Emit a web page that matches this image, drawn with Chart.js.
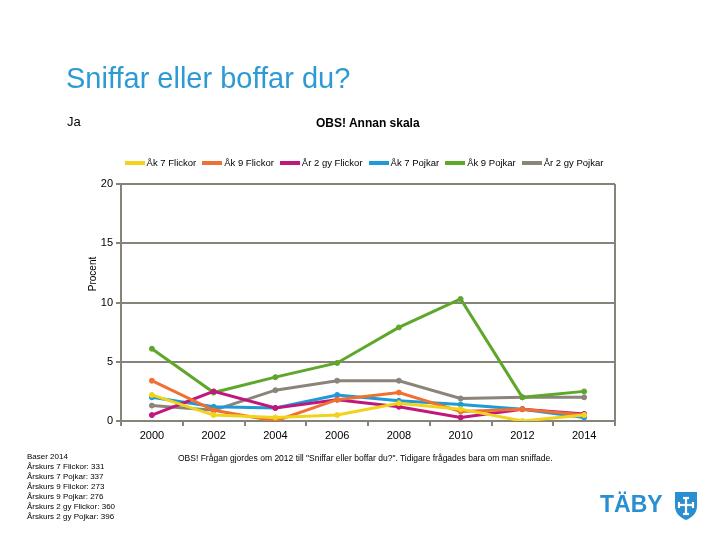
<!DOCTYPE html>
<html>
<head>
<meta charset="utf-8">
<script src="https://cdn.jsdelivr.net/npm/chart.js@4/dist/chart.umd.min.js"></script>
<style>
  html, body { margin:0; padding:0; background:#fff; }
  #wrap { position:relative; width:720px; height:540px; overflow:hidden; font-family:"Liberation Sans", Arial, sans-serif; }
  #c { position:absolute; left:0; top:0; }
  .t { position:absolute; white-space:nowrap; color:#000; }
  #title { left:66px; top:62px; font-size:29px; color:#2e9ad3; }
  #ja { left:67px; top:114px; font-size:13px; }
  #obs { left:316px; top:116px; font-size:12px; font-weight:bold; }
  #legend { position:absolute; top:157px; left:0; width:728px; display:flex; justify-content:center; font-size:9.5px; }
  .li { display:flex; align-items:center; margin:0 3px; }
  .sw { width:20px; height:4px; margin-right:2px; }
  #bas { left:27px; top:452px; font-size:8px; line-height:10px; }
  #note { left:178px; top:453px; font-size:8.5px; }
  #taby { left:600px; top:491px; font-size:23px; font-weight:bold; color:#2a8fd0; }
  #shield { position:absolute; left:674px; top:491px; }
</style>
</head>
<body>
<div id="wrap">
  <canvas id="c" width="720" height="540"></canvas>
  <div class="t" id="title">Sniffar eller boffar du?</div>
  <div class="t" id="ja">Ja</div>
  <div class="t" id="obs">OBS! Annan skala</div>
  <div id="legend"></div>
  <div class="t" id="bas">Baser 2014<br>Årskurs 7 Flickor: 331<br>Årskurs 7 Pojkar: 337<br>Årskurs 9 Flickor: 273<br>Årskurs 9 Pojkar: 276<br>Årskurs 2 gy Flickor: 360<br>Årskurs 2 gy Pojkar: 396</div>
  <div class="t" id="note">OBS! Frågan gjordes om 2012 till "Sniffar eller boffar du?". Tidigare frågades bara om man sniffade.</div>
  <div class="t" id="taby">TÄBY</div>
  <svg id="shield" width="24" height="30" viewBox="0 0 24 30">
    <path d="M1 1 H23 V15 C23 23 17 27 12 29 C7 27 1 23 1 15 Z" fill="#2a8fd0"/>
    <g stroke="#fff" stroke-width="2.2" fill="none">
      <line x1="12" y1="6" x2="12" y2="24"/>
      <line x1="4" y1="14" x2="20" y2="14"/>
      <line x1="9" y1="7" x2="15" y2="7"/>
      <line x1="9" y1="23" x2="15" y2="23"/>
      <line x1="5" y1="11" x2="5" y2="17"/>
      <line x1="19" y1="11" x2="19" y2="17"/>
    </g>
  </svg>
</div>
<script>
const years = ["2000","2002","2004","2006","2008","2010","2012","2014"];
const seriesNames = ["Åk 7 Flickor","Åk 9 Flickor","År 2 gy Flickor","Åk 7 Pojkar","Åk 9 Pojkar","År 2 gy Pojkar"];
const ak7Flickor   = [2.2, 0.5, 0.3, 0.5, 1.5, 1.0, 0.0, 0.5];
const ak9Flickor   = [3.4, 0.9, 0.0, 1.8, 2.4, 0.8, 1.0, 0.5];
const ar2Flickor   = [0.5, 2.5, 1.1, 1.8, 1.2, 0.3, 1.0, 0.6];
const ak7Pojkar    = [2.0, 1.2, 1.1, 2.2, 1.7, 1.4, 1.0, 0.3];
const ak9Pojkar    = [6.1, 2.4, 3.7, 4.9, 7.9, 10.3, 2.0, 2.5];
const ar2Pojkar    = [1.3, 0.9, 2.6, 3.4, 3.4, 1.9, 2.0, 2.0];
const yTicks = [0, 5, 10, 15, 20];

const colors = ["#f2d31b","#ef7033","#c0177b","#1c9bd7","#5ea72b","#8b8479"];
const values = [ak7Flickor, ak9Flickor, ar2Flickor, ak7Pojkar, ak9Pojkar, ar2Pojkar];
const gridCol = "#878378";

const legend = document.getElementById('legend');
seriesNames.forEach((n,i)=>{
  const d = document.createElement('div'); d.className='li';
  d.innerHTML = '<span class="sw" style="background:'+colors[i]+'"></span><span>'+n+'</span>';
  legend.appendChild(d);
});

const extras = {
  id:'extras',
  afterDraw(chart){
    const ctx = chart.ctx, a = chart.chartArea;
    ctx.save();
    ctx.strokeStyle = gridCol; ctx.lineWidth = 2;
    ctx.beginPath(); ctx.moveTo(a.right, a.top); ctx.lineTo(a.right, a.bottom); ctx.stroke();
    ctx.fillStyle = '#000';
    ctx.font = '10px "Liberation Sans", Arial, sans-serif';
    ctx.translate(93, 274); ctx.rotate(-Math.PI/2);
    ctx.textAlign = 'center'; ctx.textBaseline = 'middle';
    ctx.fillText('Procent', 0, 0);
    ctx.restore();
  }
};

new Chart(document.getElementById('c'), {
  type:'line',
  data:{
    labels: years,
    datasets: seriesNames.map((n,i)=>({
      label:n, data:values[i], borderColor:colors[i], backgroundColor:colors[i],
      pointBackgroundColor:colors[i], pointBorderColor:colors[i],
      borderWidth:3, pointRadius:2.5, pointBorderWidth:1, tension:0, fill:false
    }))
  },
  options:{
    responsive:false, animation:false, devicePixelRatio:1,
    layout:{ padding:{ left:0, right:105, top:184, bottom:89 } },
    plugins:{ legend:{display:false}, tooltip:{enabled:false} },
    scales:{
      x:{
        offset:true,
        grid:{ offset:true, drawOnChartArea:false, drawTicks:true, tickLength:5, color:gridCol, lineWidth:2 },
        border:{ color:gridCol, width:2 },
        ticks:{ color:'#000', font:{ family:'"Liberation Sans", Arial, sans-serif', size:11 }, padding:3, maxRotation:0 },
        afterFit(s){ s.height = 30; }
      },
      y:{
        min:0, max:20,
        afterBuildTicks(s){ s.ticks = yTicks.map(v=>({value:v})); },
        grid:{ color:gridCol, lineWidth:2, drawTicks:true, tickLength:5 },
        border:{ color:gridCol, width:2 },
        ticks:{ color:'#000', font:{ family:'"Liberation Sans", Arial, sans-serif', size:11 }, padding:3 },
        afterFit(s){ s.width = 121; }
      }
    }
  },
  plugins:[extras]
});
</script>
</body>
</html>
